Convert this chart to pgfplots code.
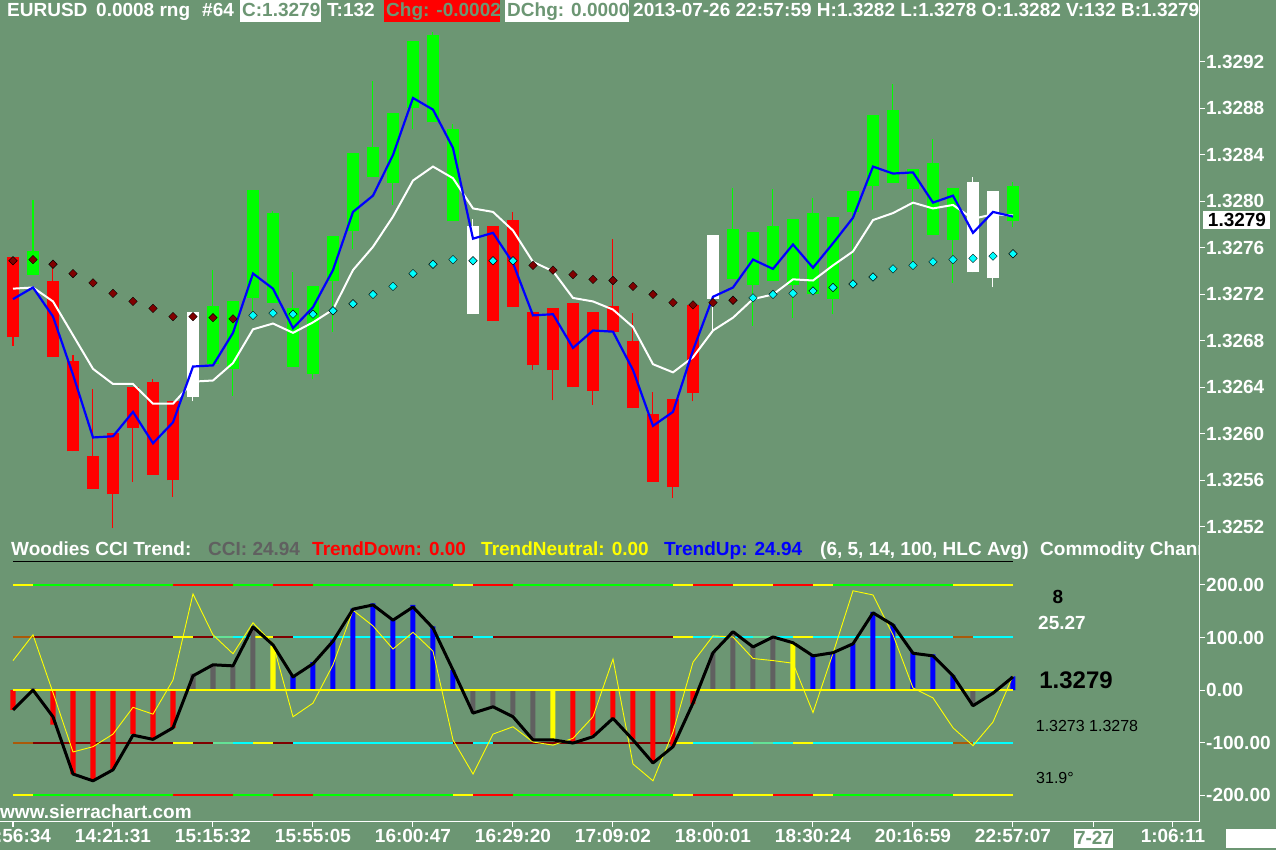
\documentclass[border=0pt]{standalone}
\usepackage{fontspec}
\setmainfont{Liberation Sans}
\usepackage{pgfplots}
\pgfplotsset{compat=1.18}
\usepackage{pgfplotstable}

\definecolor{bg}{RGB}{108,150,115}
\definecolor{cgreen}{RGB}{0,255,0}
\definecolor{cred}{RGB}{255,0,0}
\definecolor{darkred}{RGB}{128,0,0}
\definecolor{ccyan}{RGB}{0,255,255}
\definecolor{cblue}{RGB}{0,0,255}
\definecolor{cgray}{RGB}{96,96,96}
\definecolor{cyel}{RGB}{255,255,0}
\definecolor{brownish}{RGB}{170,90,10}
\definecolor{mint}{RGB}{100,225,150}
\newcommand\lb{\fontsize{19}{21}\selectfont\bfseries}
\pgfplotsset{
  candle/.style={only marks, mark=*, mark options={draw opacity=0, fill opacity=0},
    error bars/.cd, y dir=plus, y explicit, error mark=none,
    error bar style={#1}},
}

% range bars: k o h l c   (white bars: o = top, c = bottom)
\pgfplotstableread{
k o h l c
0 1.32752 1.32752 1.32676 1.32683
2 1.32732 1.32745 1.32666 1.32666
3 1.32663 1.32668 1.32585 1.32585
4 1.32581 1.32639 1.32553 1.32553
5 1.32601 1.32601 1.32519 1.32548
6 1.32640 1.32640 1.32559 1.32605
7 1.32645 1.32647 1.32565 1.32565
8 1.32628 1.32628 1.32546 1.32560
24 1.32779 1.32779 1.32697 1.32697
25 1.32784 1.32791 1.32709 1.32709
26 1.32705 1.32705 1.32655 1.32659
27 1.32708 1.32708 1.32629 1.32655
28 1.32713 1.32713 1.32640 1.32640
29 1.32705 1.32705 1.32625 1.32637
30 1.32710 1.32768 1.32688 1.32688
31 1.32680 1.32704 1.32622 1.32622
32 1.32617 1.32636 1.32559 1.32559
33 1.32630 1.32630 1.32545 1.32554
34 1.32711 1.32711 1.32628 1.32635
}\redbars
\pgfplotstableread{
k o h l c
1 1.32737 1.32801 1.32737 1.32757
10 1.32660 1.32741 1.32660 1.32710
11 1.32656 1.32714 1.32633 1.32714
12 1.32717 1.32810 1.32704 1.32810
13 1.32713 1.32792 1.32713 1.32790
14 1.32658 1.32739 1.32658 1.32708
15 1.32652 1.32727 1.32647 1.32727
16 1.32732 1.32770 1.32688 1.32770
17 1.32775 1.32842 1.32759 1.32842
18 1.32821 1.32904 1.32821 1.32847
19 1.32816 1.32876 1.32797 1.32876
20 1.32880 1.32938 1.32862 1.32938
21 1.32868 1.32946 1.32868 1.32943
22 1.32783 1.32867 1.32783 1.32862
36 1.32733 1.32812 1.32733 1.32776
37 1.32728 1.32774 1.32693 1.32774
38 1.32732 1.32811 1.32732 1.32779
39 1.32728 1.32785 1.32700 1.32785
40 1.32720 1.32803 1.32720 1.32790
41 1.32716 1.32787 1.32703 1.32787
42 1.32791 1.32809 1.32726 1.32809
43 1.32813 1.32874 1.32793 1.32874
44 1.32816 1.32901 1.32816 1.32879
45 1.32811 1.32828 1.32744 1.32828
46 1.32771 1.32854 1.32771 1.32833
47 1.32767 1.32812 1.32730 1.32812
50 1.32783 1.32817 1.32778 1.32813
}\greenbars
\pgfplotstableread{
k o h l c
9 1.32705 1.32705 1.32628 1.32632
23 1.32779 1.32785 1.32703 1.32703
35 1.32771 1.32771 1.32689 1.32716
48 1.32817 1.32821 1.32739 1.32739
49 1.32809 1.32809 1.32726 1.32734
}\whitebars

% moving averages
\pgfplotstableread{
k fast slow
0 1.32716 1.32725
1 1.32726 1.32726
2 1.32701 1.32714
3 1.32651 1.32685
4 1.32597 1.32656
5 1.32598 1.32643
6 1.32619 1.32643
7 1.32592 1.32626
8 1.32610 1.32626
9 1.32658 1.32645
10 1.32659 1.32646
11 1.32687 1.32661
12 1.32738 1.32690
13 1.32725 1.32695
14 1.32691 1.32687
15 1.32709 1.32696
16 1.32741 1.32707
17 1.32791 1.32741
18 1.32805 1.32761
19 1.32840 1.32787
20 1.32889 1.32818
21 1.32879 1.32830
22 1.32846 1.32820
23 1.32768 1.32794
24 1.32773 1.32791
25 1.32747 1.32775
26 1.32702 1.32748
27 1.32703 1.32740
28 1.32674 1.32717
29 1.32689 1.32714
30 1.32688 1.32707
31 1.32655 1.32692
32 1.32607 1.32660
33 1.32619 1.32653
34 1.32672 1.32666
35 1.32718 1.32689
36 1.32726 1.32700
37 1.32750 1.32716
38 1.32742 1.32720
39 1.32763 1.32733
40 1.32743 1.32732
41 1.32764 1.32745
42 1.32786 1.32757
43 1.32830 1.32784
44 1.32824 1.32790
45 1.32825 1.32799
46 1.32799 1.32794
47 1.32805 1.32797
48 1.32773 1.32785
49 1.32791 1.32789
50 1.32787 1.32788
}\avgs

% CCI panel
\pgfplotstableread{
k cci tcci
0 -38 56
1 0 105
2 -51 -5
3 -160 -118
4 -173 -108
5 -152 -84
6 -86 -33
7 -94 -46
8 -72 19
9 27 183
10 48 105
11 46 69
12 120 128
13 86 88
14 25 -51
15 50 -25
16 93 48
17 154 152
18 162 122
19 133 78
20 158 110
21 118 74
22 38 -95
23 -44 -160
24 -32 -84
25 -51 -70
26 -95 -99
27 -95 -105
28 -101 -92
29 -89 -51
30 -54 59
31 -95 -141
32 -139 -173
33 -108 -80
34 -25 53
35 71 103
36 111 101
37 82 60
38 101 56
39 90 51
40 65 -43
41 71 70
42 88 189
43 147 181
44 124 105
45 70 4
46 65 -15
47 27 -72
48 -30 -106
49 -6 -61
50 25 27
}\ccidata
\pgfplotstableread{
k v
0 -38
2 -66
3 -160
4 -173
5 -150
6 -84
7 -91
8 -72
28 -100
29 -87
30 -53
31 -94
32 -138
33 -107
34 -27
}\histred
\pgfplotstableread{
k v
1 3
9 31
10 46
11 46
12 119
23 -43
24 -30
25 -48
26 -94
35 71
36 112
37 84
38 103
48 -30
}\histgray
\pgfplotstableread{
k v
13 84
27 -94
39 91
}\histyel
\pgfplotstableread{
k v
14 28
15 53
16 96
17 155
18 165
19 136
20 162
21 121
22 38
40 68
41 72
42 89
43 149
44 125
45 72
46 68
47 28
50 26
}\histblue

\begin{document}
\begin{tikzpicture}[x=1pt,y=1pt]
\useasboundingbox (0,0) rectangle (1276,850);
\fill[bg] (0,0) rectangle (1276,850);

% ---------- price panel ----------
\begin{axis}[
  at={(0pt,310pt)}, anchor=south west,
  width=1200pt, height=540pt, scale only axis,
  xmin=-0.65, xmax=59.35,
  ymin=1.325088, ymax=1.329733,
  axis x line=none, axis y line*=right,
  y axis line style={white, line width=1pt, -},
  xtick=\empty,
  ytick={1.3252,1.3256,1.3260,1.3264,1.3268,1.3272,1.3276,1.3280,1.3284,1.3288,1.3292},
  yticklabels={1.3252,1.3256,1.3260,1.3264,1.3268,1.3272,1.3276,1.3280,1.3284,1.3288,1.3292},
  tick align=outside, major tick length=5pt,
  tick style={white, line width=1pt},
  yticklabel style={font=\lb, text=white, anchor=west, inner xsep=1pt},
]
% wicks
\addplot[candle={cred, line width=1pt}]
  table[x=k, y=l, y error plus expr=\thisrow{h}-\thisrow{l}] {\redbars};
\addplot[candle={cgreen, line width=1pt}]
  table[x=k, y=l, y error plus expr=\thisrow{h}-\thisrow{l}] {\greenbars};
\addplot[candle={white, line width=1pt}]
  table[x=k, y=l, y error plus expr=\thisrow{h}-\thisrow{l}] {\whitebars};
% bodies
\addplot[candle={cred, line width=12.5pt}]
  table[x=k, y=c, y error plus expr=\thisrow{o}-\thisrow{c}] {\redbars};
\addplot[candle={cgreen, line width=12.5pt}]
  table[x=k, y=o, y error plus expr=\thisrow{c}-\thisrow{o}] {\greenbars};
\addplot[candle={white, line width=12.5pt}]
  table[x=k, y=c, y error plus expr=\thisrow{o}-\thisrow{c}] {\whitebars};
% stop dots
\addplot[only marks, mark=square*, mark size=3pt, mark options={rotate=45, fill=darkred, draw=none}]
  coordinates {(0,1.32749)(1,1.32750)(2,1.32746)(3,1.32738)(4,1.32730)(5,1.32721)
  (6,1.32714)(7,1.32708)(8,1.32701)(9,1.32701)(10,1.32700)(11,1.32699)
  (26,1.32745)(27,1.32741)(28,1.32737)(29,1.32733)(30,1.32732)(31,1.32727)
  (32,1.32720)(33,1.32713)(34,1.32711)(35,1.32713)(36,1.32715)};
\addplot[only marks, mark=square*, mark size=3pt, mark options={rotate=45, fill=ccyan, draw=none}]
  coordinates {(12,1.32702)(13,1.32704)(14,1.32703)(15,1.32703)(16,1.32706)(17,1.32712)
  (18,1.32720)(19,1.32727)(20,1.32738)(21,1.32746)(22,1.32750)(23,1.32749)(24,1.32749)(25,1.32749)
  (37,1.32717)(38,1.32720)(39,1.32721)(40,1.32723)(41,1.32726)(42,1.32729)(43,1.32735)
  (44,1.32742)(45,1.32745)(46,1.32748)(47,1.32750)(48,1.32751)(49,1.32753)(50,1.32755)};
% averages
\addplot[white, line width=2pt] table[x=k, y=slow] {\avgs};
\addplot[cblue, line width=2.2pt] table[x=k, y=fast] {\avgs};
\end{axis}

% ---------- CCI panel ----------
\begin{axis}[
  at={(0pt,28pt)}, anchor=south west,
  width=1200pt, height=282pt, scale only axis,
  xmin=-0.65, xmax=59.35, ymin=-251.4, ymax=285.7,
  axis x line*=bottom, axis y line*=right,
  axis line style={white, line width=1pt, -},
  xtick={0,5,10,15,20,25,30,35,40,45,50,54.05,58},
  xticklabels={13:56:34,14:21:31,15:15:32,15:55:05,16:00:47,16:29:20,17:09:02,18:00:01,18:30:24,20:16:59,22:57:07,,1:06:11},
  ytick={-200,-100,0,100,200},
  yticklabels={-200.00,-100.00,0.00,100.00,200.00},
  tick align=outside, major tick length=5pt,
  tick style={white, line width=1pt},
  xticklabel style={font=\lb, text=white, inner ysep=2pt},
  yticklabel style={font=\lb, text=white, anchor=west, inner xsep=1pt},
  unbounded coords=jump,
]
% level lines +-200
\addplot[cgreen, line width=2pt] coordinates {(1,200)(8,200)(8,nan)(11,200)(13,200)(13,nan)(15,200)(22,200)(22,nan)(25,200)(33,200)(33,nan)(41,200)(47,200)(47,nan)
 (1,-200)(8,-200)(8,nan)(11,-200)(13,-200)(13,nan)(15,-200)(22,-200)(22,nan)(25,-200)(33,-200)(33,nan)(41,-200)(47,-200)};
\addplot[cred, line width=2pt] coordinates {(8,200)(11,200)(11,nan)(13,200)(15,200)(15,nan)(23,200)(25,200)(25,nan)(34,200)(36,200)(36,nan)(38,200)(40,200)(40,nan)
 (8,-200)(11,-200)(11,nan)(13,-200)(15,-200)(15,nan)(23,-200)(25,-200)(25,nan)(34,-200)(36,-200)(36,nan)(38,-200)(40,-200)};
\addplot[cyel, line width=2pt] coordinates {(0,200)(1,200)(1,nan)(22,200)(23,200)(23,nan)(33,200)(34,200)(34,nan)(36,200)(38,200)(38,nan)(40,200)(41,200)(41,nan)(47,200)(50,200)(50,nan)
 (0,-200)(1,-200)(1,nan)(22,-200)(23,-200)(23,nan)(33,-200)(34,-200)(34,nan)(36,-200)(38,-200)(38,nan)(40,-200)(41,-200)(41,nan)(47,-200)(50,-200)};
% level lines +-100
\addplot[brownish, line width=2pt] coordinates {(0,100)(1,100)(1,nan)(47,100)(48,100)(48,nan)(0,-100)(1,-100)(1,nan)(47,-100)(48,-100)};
\addplot[darkred, line width=2pt] coordinates {(1,100)(8,100)(8,nan)(9,100)(10,100)(10,nan)(13,100)(14,100)(14,nan)(22,100)(23,100)(23,nan)(24,100)(33,100)(33,nan)
 (1,-100)(8,-100)(8,nan)(9,-100)(10,-100)(10,nan)(13,-100)(14,-100)(14,nan)(22,-100)(23,-100)(23,nan)(24,-100)(33,-100)};
\addplot[cyel, line width=2pt] coordinates {(8,100)(9,100)(9,nan)(12,100)(13,100)(13,nan)(33,100)(34,100)(34,nan)(39,100)(40,100)(40,nan)
 (8,-100)(9,-100)(9,nan)(12,-100)(13,-100)(13,nan)(33,-100)(34,-100)(34,nan)(39,-100)(40,-100)};
\addplot[mint, line width=2pt] coordinates {(10,100)(11,100)(11,nan)(37,100)(38,100)(38,nan)(10,-100)(11,-100)(11,nan)(37,-100)(38,-100)};
\addplot[ccyan, line width=2pt] coordinates {(11,100)(12,100)(12,nan)(14,100)(22,100)(22,nan)(23,100)(24,100)(24,nan)(34,100)(37,100)(37,nan)(38,100)(39,100)(39,nan)(40,100)(47,100)(47,nan)(48,100)(50,100)(50,nan)
 (11,-100)(12,-100)(12,nan)(14,-100)(22,-100)(22,nan)(23,-100)(24,-100)(24,nan)(34,-100)(37,-100)(37,nan)(38,-100)(39,-100)(39,nan)(40,-100)(47,-100)(47,nan)(48,-100)(50,-100)};
% histogram
\addplot[ybar, bar width=5pt, bar shift=0pt, fill=cred, draw=none] table[x=k, y=v] {\histred};
\addplot[ybar, bar width=5pt, bar shift=0pt, fill=cgray, draw=none] table[x=k, y=v] {\histgray};
\addplot[ybar, bar width=5pt, bar shift=0pt, fill=cyel, draw=none] table[x=k, y=v] {\histyel};
\addplot[ybar, bar width=5pt, bar shift=0pt, fill=cblue, draw=none] table[x=k, y=v] {\histblue};
\addplot[cyel, line width=1.5pt] coordinates {(0,0)(50,0)};
% CCI lines
\addplot[cyel, line width=0.9pt] table[x=k, y=tcci] {\ccidata};
\addplot[black, line width=3pt, line join=round] table[x=k, y=cci] {\ccidata};
\end{axis}

% ---------- frame pieces and text ----------
\fill[white] (240,828) rectangle (321,850);
\fill[cred] (384,828) rectangle (500,850);
\fill[white] (505,828) rectangle (629,850);
\begin{scope}[every node/.style={anchor=base west, inner sep=0pt, font=\lb}]
\node[text=white] at (7,833) {EURUSD};
\node[text=white] at (96,833) {0.0008 rng};
\node[text=white] at (202,833) {\#64};
\node[text=bg] at (242,833) {C:1.3279};
\node[text=white] at (327,833) {T:132};
\node[text=bg] at (386,833) {Chg: -0.0002};
\node[text=bg] at (507,833) {DChg: 0.0000};
\begin{scope}
\clip (600,800) rectangle (1199.5,850);
\node[text=white] at (633,833) {2013-07-26 22:57:59 H:1.3282 L:1.3278 O:1.3282 V:132 B:1.3279};
\end{scope}
\node[text=white] at (11,294) {Woodies CCI Trend:};
\node[text=cgray] at (208,294) {CCI: 24.94};
\node[text=cred] at (312,294) {TrendDown: 0.00};
\node[text=cyel] at (481,294) {TrendNeutral: 0.00};
\node[text=cblue] at (664,294) {TrendUp: 24.94};
\node[text=white] at (820,294) {(6, 5, 14, 100, HLC Avg)};
\begin{scope}
\clip (1000,280) rectangle (1199.5,320);
\node[text=white] at (1040,294) {Commodity Channel Index};
\end{scope}
\node[text=white] at (0,31) {www.sierrachart.com};
\end{scope}
\draw[black, line width=1pt] (13,288) -- (1013,288);

% last price box on price scale
\fill[white] (1203,621) rectangle (1270,639);
\node[anchor=base, inner sep=0pt, font=\lb, text=black] at (1237,623) {1.3279};

% values in CCI panel
\node[anchor=base, inner sep=0pt, font=\lb, text=black] at (1058,246) {8};
\node[anchor=base, inner sep=0pt, font=\lb, text=white] at (1062,220) {25.27};
\node[anchor=base, inner sep=0pt, font=\fontsize{24}{26}\selectfont\bfseries, text=black] at (1076,161.5) {1.3279};
\node[anchor=base, inner sep=0pt, font=\fontsize{16}{18}\selectfont, text=black] at (1087,118) {1.3273 1.3278};
\node[anchor=base, inner sep=0pt, font=\fontsize{16}{18}\selectfont, text=black] at (1055,66) {31.9°};

% date box and corner box
\fill[white] (1074,2) rectangle (1113,21);
\node[anchor=base, inner sep=0pt, font=\lb, text=bg] at (1094,5) {7-27};
\fill[white] (1226,2) rectangle (1276,21);
\end{tikzpicture}
\end{document}
